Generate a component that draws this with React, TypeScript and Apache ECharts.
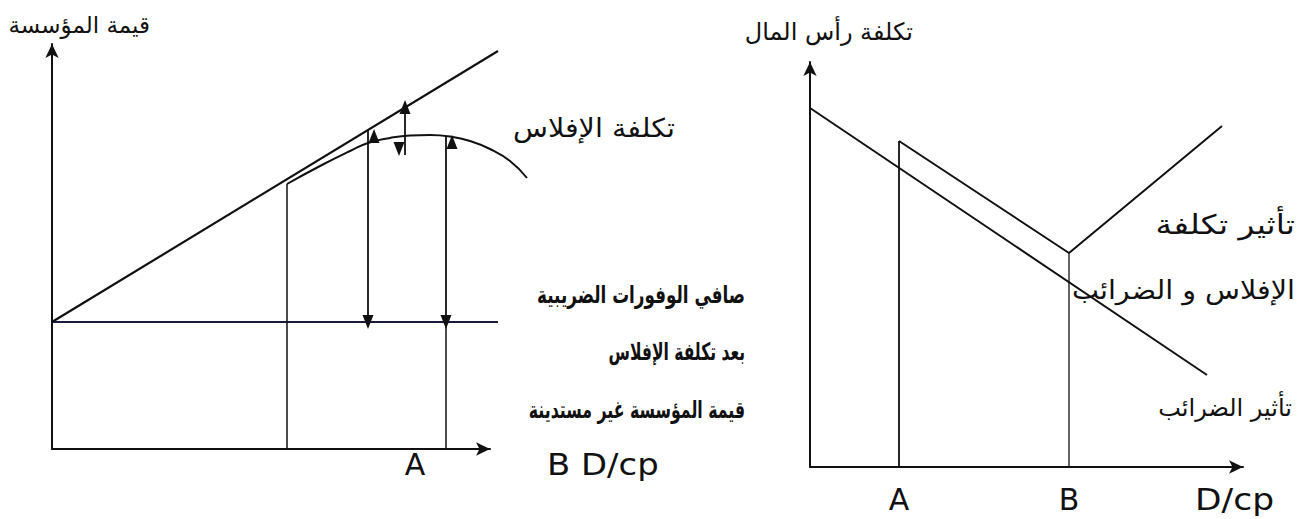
import React, { useEffect, useRef } from "react";
import * as echarts from "echarts";

// ---- Left diagram: firm value vs D/cp (units: px from origin) ----
const leftUnlevered: number[][] = [[0, 127], [446, 127]];
const leftTaxShield: number[][] = [[0, 127], [446, 398]];
const leftAfterBankruptcy: number[][] = [
  [235, 265], [268, 283], [298, 298], [316, 306], [338, 311], [358, 313.5],
  [378, 314], [398, 312.5], [418, 308], [438, 300], [458, 288], [475, 271],
];
const leftDrop: number[][] = [[235, 0], [235, 265]];
const leftPlainDrop: number[][] = [[394, 0], [394, 127]];
const leftArrows: number[][][] = [
  [[316, 127], [316, 319]],
  [[353, 342], [353, 294]],
  [[394, 127], [394, 313]],
];
const leftTickValues = [363];
const leftTickLabels = ["A"];

// ---- Right diagram: cost of capital vs D/cp ----
const rightTax: number[][] = [[0, 359], [397, 92]];
const rightTotal: number[][] = [[89, 326], [259, 214], [412, 341]];
const rightDropA: number[][] = [[89, 0], [89, 326]];
const rightDropB: number[][] = [[259, 0], [259, 214]];
const rightTickValues = [89, 259];
const rightTickLabels = ["A", "B"];

const INK = "#111";
const LATIN = "DejaVu Sans";
const ARABIC = "DejaVu Sans";

function axisLineCfg() {
  return {
    show: true,
    onZero: false,
    symbol: ["none", "arrow"],
    symbolSize: [10, 14],
    lineStyle: { color: INK, width: 2 },
  };
}

const hiddenAxis = (gridIndex: number, max: number) => ({
  type: "value", gridIndex, min: 0, max, show: false,
  axisLine: { show: false }, axisTick: { show: false }, splitLine: { show: false }, axisLabel: { show: false },
});

function lineSeries(data: number[][], idx: number, width: number, color = INK, smooth: any = false, extra: any = {}) {
  return {
    type: "line",
    xAxisIndex: idx,
    yAxisIndex: idx,
    data,
    symbol: "none",
    smooth,
    clip: false,
    silent: true,
    lineStyle: { color, width },
    ...extra,
  };
}

function txt(text: string, x: number, y: number, size: number, align: string, bold = false, sx = 1, sy = 1, family = ARABIC) {
  return {
    type: "text",
    x,
    y,
    scaleX: sx,
    scaleY: sy,
    silent: true,
    style: {
      text,
      fontSize: size,
      fontFamily: family,
      fontWeight: bold ? "bold" : "normal",
      fill: INK,
      align,
      verticalAlign: "middle",
    },
  };
}

export default function App() {
  const ref = useRef<HTMLDivElement>(null);
  useEffect(() => {
    if (!ref.current) return;
    const chart = echarts.init(ref.current, undefined, { renderer: "svg" });
    chart.setOption({
      animation: false,
      backgroundColor: "#fff",
      grid: [
        { left: 52, top: 44, width: 438, height: 405 },
        { left: 810, top: 62, width: 433, height: 405 },
        { left: 52, top: 44, width: 490, height: 405 },
      ],
      xAxis: [
        {
          type: "value", gridIndex: 0, min: 0, max: 438,
          axisLine: axisLineCfg(), axisTick: { show: false }, splitLine: { show: false },
          axisLabel: {
            customValues: leftTickValues,
            formatter: (v: number) => leftTickLabels[leftTickValues.indexOf(v)] ?? "",
            fontSize: 30, fontFamily: LATIN, color: INK, margin: 0,
          },
        },
        {
          type: "value", gridIndex: 1, min: 0, max: 433,
          axisLine: axisLineCfg(), axisTick: { show: false }, splitLine: { show: false },
          axisLabel: {
            customValues: rightTickValues,
            formatter: (v: number) => rightTickLabels[rightTickValues.indexOf(v)] ?? "",
            fontSize: 30, fontFamily: LATIN, color: INK, margin: 17,
          },
        },
        hiddenAxis(2, 490),
      ],
      yAxis: [
        {
          type: "value", gridIndex: 0, min: 0, max: 405,
          axisLine: axisLineCfg(), axisTick: { show: false }, splitLine: { show: false }, axisLabel: { show: false },
        },
        {
          type: "value", gridIndex: 1, min: 0, max: 405,
          axisLine: axisLineCfg(), axisTick: { show: false }, splitLine: { show: false }, axisLabel: { show: false },
        },
        hiddenAxis(2, 405),
      ],
      series: [
        lineSeries(leftUnlevered, 2, 2.2, "#1a1a3a", false, {
          markLine: {
            silent: true,
            symbol: ["triangle", "triangle"],
            symbolSize: [11, 14],
            symbolOffset: [0, 6],
            lineStyle: { color: INK, width: 1.8, type: "solid" },
            itemStyle: { color: INK },
            label: { show: false },
            emphasis: { disabled: true },
            data: leftArrows.map((a) => [{ coord: a[0] }, { coord: a[1] }]),
          },
        }),
        lineSeries(leftTaxShield, 2, 2.2),
        lineSeries(leftAfterBankruptcy, 2, 2, INK, 0.5),
        lineSeries(leftDrop, 0, 1.5),
        lineSeries(leftPlainDrop, 0, 1.5),
        lineSeries(rightTax, 1, 2),
        lineSeries(rightTotal, 1, 2),
        lineSeries(rightDropA, 1, 1.8),
        lineSeries(rightDropB, 1, 1.3),
      ],
      graphic: [
        txt("قيمة المؤسسة", 150, 25, 23, "right"),
        txt("تكلفة الإفلاس", 675, 128, 26, "right", false, 1.1),
        txt("صافي الوفورات الضريبية", 745, 295, 21, "right", true, 0.8, 1.15),
        txt("بعد تكلفة الإفلاس", 745, 352, 21, "right", true, 0.74, 1.15),
        txt("قيمة المؤسسة غير مستدينة", 745, 410, 21, "right", true, 0.75, 1.15),
        txt("B D/cp", 547, 465, 30, "left", false, 1.13, 1, LATIN),
        txt("تكلفة رأس المال", 913, 32, 24, "right"),
        txt("تأثير تكلفة", 1295, 225, 27, "right", false, 1.22),
        txt("الإفلاس و الضرائب", 1295, 290, 26, "right", false, 1.1),
        txt("تأثير الضرائب", 1292, 408, 24, "right"),
        txt("D/cp", 1195, 500, 30, "left", false, 1.15, 1, LATIN),
      ],
    });
    return () => chart.dispose();
  }, []);
  return (
    <div
      ref={ref}
      style={{ position: "absolute", left: 0, top: 0, width: 1299, height: 519 }}
    />
  );
}
